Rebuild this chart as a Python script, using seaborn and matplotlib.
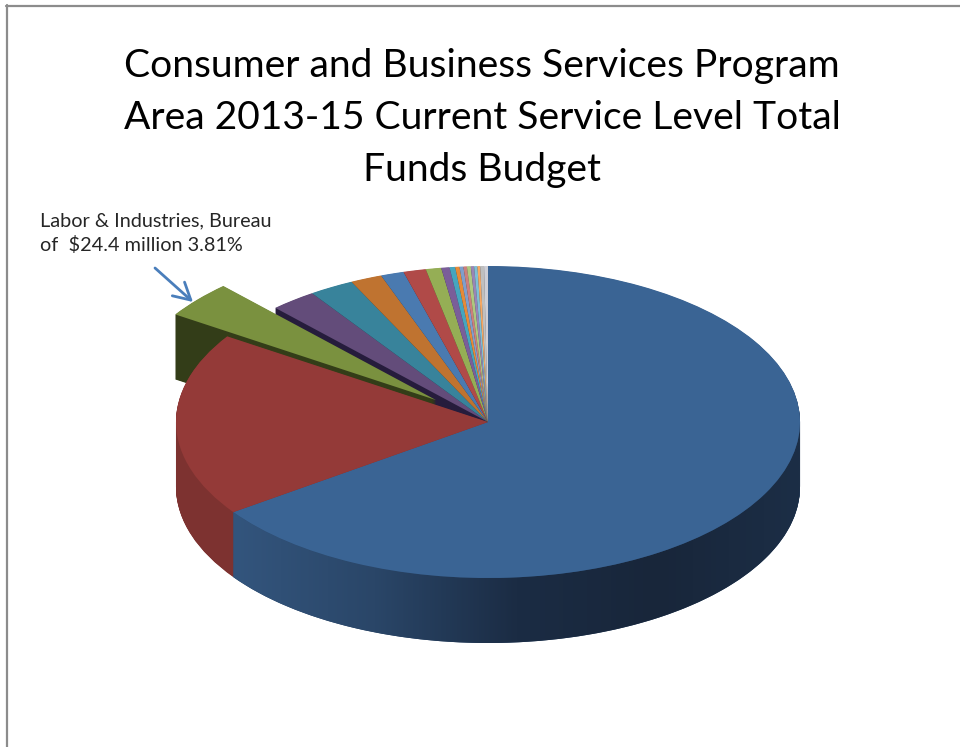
import numpy as np
import matplotlib
matplotlib.use("Agg")
import matplotlib.pyplot as plt
from matplotlib.lines import Line2D
from matplotlib.patches import Polygon
import seaborn as sns

# Data (percent of the total budget)
title = "Consumer and Business Services Program\nArea 2013-15 Current Service Level Total\nFunds Budget"
label = "Labor & Industries, Bureau\nof  $24.4 million 3.81%"
shares = [65.2, 19.05, 3.81, 2.4, 2.33, 1.64, 1.2, 1.17, 0.8, 0.43, 0.29, 0.22,
          0.2, 0.18, 0.2, 0.17, 0.17, 0.14, 0.2, 0.2]
explode = [0, 0, 0.218] + [0] * 17
top_colors = ["#3A6494", "#943A38", "#7A913F", "#634C7A", "#38839B", "#BF7330",
              "#4A7AB0", "#B04A48", "#95AE55", "#7A5E99", "#46A5BF", "#E68A38",
              "#7F9FCC", "#CC7F7D", "#AEC87F", "#9A85B5", "#7FBFD5", "#F5A864",
              "#BFBFBF", "#CFCFD6"]
wall_colors = ["#2A4668", "#7D3230", "#333D18", "#261C3C", "#173845", "#553214",
               "#1F3450", "#4E1F1E", "#404C22", "#332842", "#1E4652", "#603A18",
               "#354560", "#583634", "#4A5636", "#42384E", "#36525C", "#68482A",
               "#525252", "#585858"]
gradient_colors = ["#33557D", "#2A4668", "#1B2C44", "#18263A", "#1C2E46"]

sns.set_theme(style="white")
plt.rcParams["font.family"] = ["Lato", "DejaVu Sans"]

W, H = 960, 747
fig = plt.figure(figsize=(W / 100, H / 100), dpi=100)
ax = fig.add_axes([0, 0, 1, 1])

# pie centre and radii in pixels, one data unit = one radius
cx, cy, rx, ry, depth_px = 488, 422, 312, 156, 65
depth = depth_px / ry

# side walls: same pie stacked downwards, then the real top on it
for d in np.arange(depth, 0, -0.5 / ry):
    ax.pie(shares, explode=explode, colors=wall_colors, startangle=90, counterclock=False,
           center=(0, -d), radius=1, wedgeprops={"linewidth": 0, "zorder": 1})

# gradient along the front of the big slice
end = np.deg2rad(90 - 360 * shares[0] / sum(shares))
t = np.linspace(end, 0, 200)
band = np.r_[np.c_[np.cos(t), np.sin(t)], np.c_[np.cos(t[::-1]), np.sin(t[::-1]) - depth]]
cmap = sns.blend_palette(gradient_colors, as_cmap=True)
im = ax.imshow(np.linspace(0, 1, 256)[None, :], extent=(np.cos(end), 1, -1 - depth, 0),
               cmap=cmap, aspect="auto", zorder=2)
im.set_clip_path(Polygon(band, closed=True, transform=ax.transData))

ax.pie(shares, explode=explode, colors=top_colors, startangle=90, counterclock=False,
       center=(0, 0), radius=1, wedgeprops={"linewidth": 0, "zorder": 3})

ax.set_aspect("auto")
ax.set_xlim(-cx / rx, (W - cx) / rx)
ax.set_ylim((cy - H) / ry, cy / ry)
ax.axis("off")

fig.text(482 / W, 1 - 118 / H, title, ha="center", va="center", fontsize=28.1,
         color="black", linespacing=1.55)
fig.text(40 / W, 1 - 233 / H, label, ha="left", va="center", fontsize=14.3,
         color="#262626", linespacing=1.43)

ax.annotate("", xy=(193, H - 302), xytext=(155, H - 268), xycoords="figure pixels",
            textcoords="figure pixels",
            arrowprops={"arrowstyle": "->,head_length=1.0,head_width=0.55", "color": "#4A7EBB",
                        "lw": 2, "shrinkA": 0, "shrinkB": 0})

# grey frame of the screenshot, left and top only
fig.add_artist(Line2D([7 / W, 7 / W], [0, 1 - 5 / H], color="#8C8C8C", lw=1.6))
fig.add_artist(Line2D([6 / W, 1], [1 - 6 / H, 1 - 6 / H], color="#8C8C8C", lw=1.6))

fig.savefig("out.png", dpi=100)
